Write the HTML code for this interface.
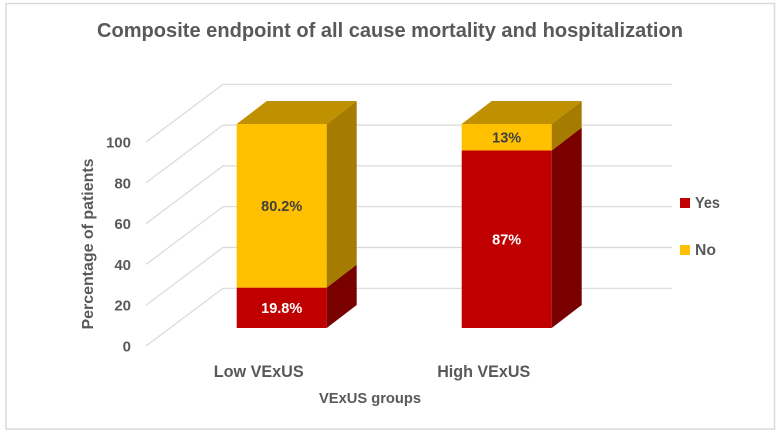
<!DOCTYPE html>
<html lang="en">
<head>
<meta charset="utf-8">
<title>Composite endpoint chart</title>
<style>
html,body{margin:0;padding:0;background:#fff;}
svg{display:block;}
text{font-family:"Liberation Sans",Arial,sans-serif;}
</style>
</head>
<body>
<svg id="chart" xmlns="http://www.w3.org/2000/svg" width="784" height="438" viewBox="0 0 784 438">
  <rect x="0" y="0" width="784" height="438" fill="#ffffff"/>
  <rect x="6" y="3.5" width="768.5" height="425.5" fill="#ffffff" stroke="#d9d9d9" stroke-width="1.5"/>
  <text x="390" y="37" text-anchor="middle" font-size="20" font-weight="bold" fill="#595959" textLength="586" lengthAdjust="spacingAndGlyphs">Composite endpoint of all cause mortality and hospitalization</text>
  <text transform="translate(93,244) rotate(-90)" text-anchor="middle" font-size="15.5" font-weight="bold" fill="#595959" textLength="171" lengthAdjust="spacingAndGlyphs">Percentage of patients</text>
  <text x="370" y="403" text-anchor="middle" font-size="15" font-weight="bold" fill="#595959" textLength="102" lengthAdjust="spacingAndGlyphs">VExUS groups</text>
  <g id="grid"></g>
  <g id="yticks"></g>
  <g id="bars"></g>
  <g id="xticks"></g>
  <g>
    <rect x="680" y="198" width="10" height="10" fill="#c00000"/>
    <text x="695" y="208" font-size="15.5" font-weight="bold" fill="#595959" textLength="25" lengthAdjust="spacingAndGlyphs">Yes</text>
    <rect x="680" y="245" width="10" height="10" fill="#ffc000"/>
    <text x="695" y="255" font-size="15.5" font-weight="bold" fill="#595959" textLength="21" lengthAdjust="spacingAndGlyphs">No</text>
  </g>
</svg>
<script>
const categories = ["Low VExUS", "High VExUS"];
const yesValues = [19.8, 87];
const noValues = [80.2, 13];
const yesLabels = ["19.8%", "87%"];
const noLabels = ["80.2%", "13%"];
const tickLabels = [0, 20, 40, 60, 80, 100];

const NS = "http://www.w3.org/2000/svg";
const UNIT = 2.04;
const BAR_W = 90;
const DEPTH_X = 30;
const DEPTH_Y = 23;

function yFront(v) { return 328 - v * UNIT; }
function yBack(v) { return 288.3 - v * UNIT; }
function ySide(v) { return 346 - v * UNIT; }
function xBar(i) { return 236.7 + i * 225; }

function make(tag, attrs, parent, txt) {
  const el = document.createElementNS(NS, tag);
  for (const k in attrs) el.setAttribute(k, attrs[k]);
  if (txt !== undefined) el.textContent = txt;
  parent.appendChild(el);
  return el;
}
function poly(pts, fill, parent) {
  return make("polygon", { points: pts.map(p => p.join(",")).join(" "), fill: fill }, parent);
}

const grid = document.getElementById("grid");
const yticks = document.getElementById("yticks");
tickLabels.forEach(function (t) {
  const line = make("polyline", {
    points: "146," + ySide(t) + " 223," + yBack(t) + " 672," + yBack(t),
    fill: "none", stroke: "#d9d9d9", "stroke-width": 1.2
  }, grid);
  
  
  const lab = make("text", {
    x: 131, y: ySide(t) + 5.5, "text-anchor": "end", "font-size": 15,
    "font-weight": "bold", fill: "#595959"
  }, yticks, String(t));
  
  
});

function segment(i, from, to, front, side, label, labelColor, parent, name) {
  const x = xBar(i);
  const y0 = yFront(from), y1 = yFront(to);
  const g = make("g", {}, parent);
  
  
  poly([[x, y1], [x + BAR_W, y1], [x + BAR_W, y0], [x, y0]], front, g);
  poly([[x + BAR_W, y1], [x + BAR_W + DEPTH_X, y1 - DEPTH_Y], [x + BAR_W + DEPTH_X, y0 - DEPTH_Y], [x + BAR_W, y0]], side, g);
  make("text", {
    x: x + BAR_W / 2, y: (y0 + y1) / 2 + 5, "text-anchor": "middle", "font-size": 14.5,
    "font-weight": "bold", fill: labelColor
  }, g, label);
}

const bars = document.getElementById("bars");
const xticks = document.getElementById("xticks");
categories.forEach(function (c, i) {
  const yes = yesValues[i], no = noValues[i];
  segment(i, 0, yes, "#c00000", "#7a0000", yesLabels[i], "#ffffff", bars, "bar-yes-" + i);
  segment(i, yes, yes + no, "#ffc000", "#a67c00", noLabels[i], "#404040", bars, "bar-no-" + i);
  const x = xBar(i), top = yFront(yes + no);
  const cap = poly([[x, top], [x + BAR_W, top], [x + BAR_W + DEPTH_X, top - DEPTH_Y], [x + DEPTH_X, top - DEPTH_Y]], "#bf9000", bars);
  
  
  const lab = make("text", {
    x: x + 22, y: 377, "text-anchor": "middle", "font-size": 16.5,
    "font-weight": "bold", fill: "#595959"
  }, xticks, c);
  
  
  lab.setAttribute('textLength', i === 0 ? '90' : '93');
  lab.setAttribute('lengthAdjust', 'spacingAndGlyphs');
});
</script>
</body>
</html>
